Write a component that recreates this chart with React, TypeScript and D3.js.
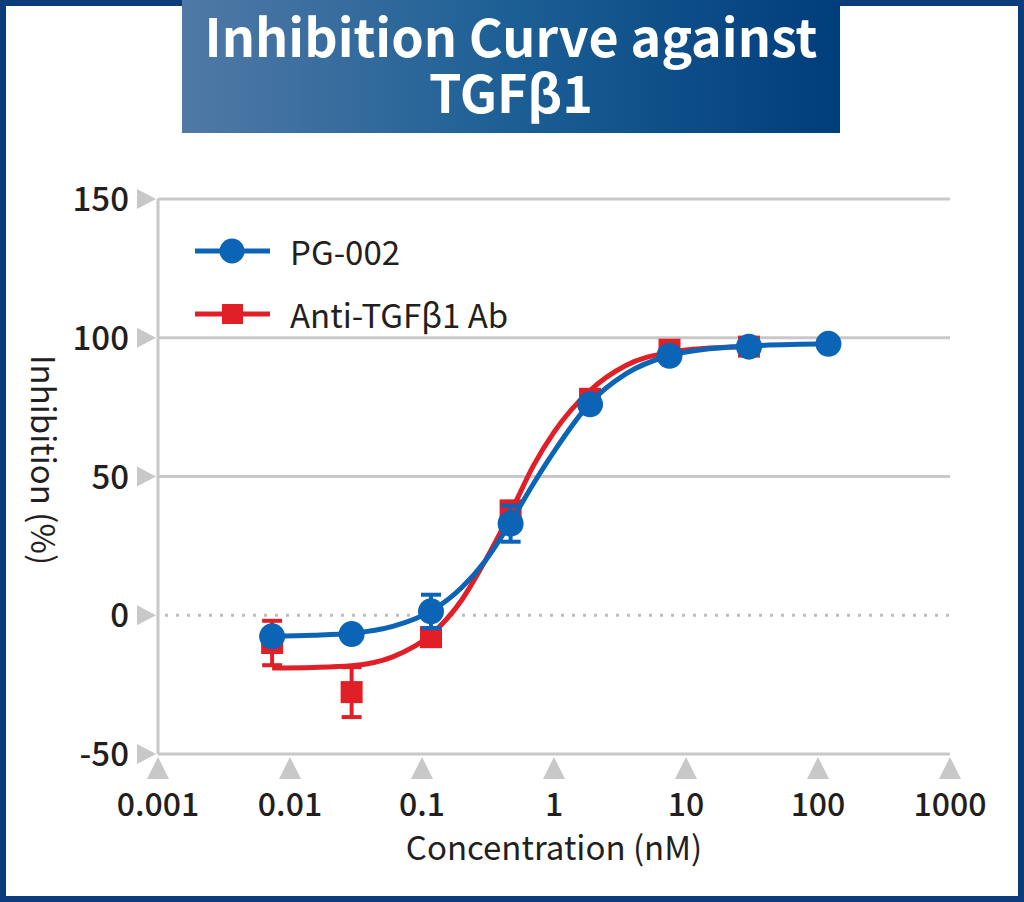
import React from "react";
import * as d3 from "d3";

// ---- data ----
const concentrations = [0.00732, 0.0293, 0.117, 0.469, 1.875, 7.5, 30, 120];
const pg002Mean = [-7.6, -6.8, 1.4, 33, 76, 93.5, 96.8, 97.8];
const pg002Err = [2, 1, 6, 6.5, 2, 1, 1, 1];
const antibodyConc = [0.00732, 0.0293, 0.117, 0.469, 1.875, 7.5, 30];
const antibodyMean = [-10, -27.7, -7.9, 37.8, 78, 95.7, 96.8];
const antibodyErr = [8, 9, 2, 3, 2, 1.5, 1];

// fitted curves
const pg002CurveConc = [0.00732, 0.015, 0.0293, 0.06, 0.117, 0.2, 0.3, 0.469, 0.7, 1, 1.875, 3.5, 7.5, 15, 30, 120];
const pg002CurveVal = [-7.5, -7.2, -6.5, -4, 1.5, 10, 19.5, 33.5, 47.5, 59, 76.5, 87, 93.6, 96, 97, 97.8];
const antibodyCurveConc = [0.00732, 0.015, 0.0293, 0.06, 0.117, 0.2, 0.3, 0.469, 0.7, 1, 1.875, 3.5, 7.5, 15, 30];
const antibodyCurveVal = [-19, -18.8, -18.2, -15, -7, 5.5, 19.5, 37, 54, 66, 81, 90, 94.8, 96.3, 96.8];

const xTicks = [0.001, 0.01, 0.1, 1, 10, 100, 1000];
const xTickLabels = ["0.001", "0.01", "0.1", "1", "10", "100", "1000"];
const yTicks = [-50, 0, 50, 100, 150];

const BLUE = "#0b64b6";
const RED = "#e01f26";
const GRID = "#c8c8c8";
const TEXT = "#231f20";
const FONT = "'Noto Sans CJK JP', 'Noto Sans', sans-serif";

export default function App() {
  const W = 1024, H = 902;
  const x = d3.scaleLog().domain([0.001, 1000]).range([158, 950]);
  const y = d3.scaleLinear().domain([-50, 150]).range([754, 199]);

  const line = d3
    .line<[number, number]>()
    .x((d) => x(d[0]))
    .y((d) => y(d[1]))
    .curve(d3.curveMonotoneX);

  const bluePath = line(pg002CurveConc.map((c, i) => [c, pg002CurveVal[i]]));
  const redPath = line(antibodyCurveConc.map((c, i) => [c, antibodyCurveVal[i]]));

  const errBars = (conc: number[], mean: number[], err: number[], color: string) =>
    conc.map((c, i) => {
      const cx = x(c);
      const y1 = y(mean[i] + err[i]);
      const y2 = y(mean[i] - err[i]);
      return (
        <g key={i} stroke={color} strokeWidth={4}>
          <line x1={cx} x2={cx} y1={y1} y2={y2} />
          <line x1={cx - 10} x2={cx + 10} y1={y1} y2={y1} />
          <line x1={cx - 10} x2={cx + 10} y1={y2} y2={y2} />
        </g>
      );
    });

  return (
    <svg
      width={W}
      height={H}
      style={{ position: "absolute", left: 0, top: 0 }}
      fontFamily={FONT}
    >
      <defs>
        <linearGradient id="titleGrad" x1="0" x2="1" y1="0" y2="0">
          <stop offset="0" stopColor="#5079a6" />
          <stop offset="0.5" stopColor="#1c5f95" />
          <stop offset="1" stopColor="#003d7b" />
        </linearGradient>
      </defs>
      {/* frame */}
      <rect x={0} y={0} width={W} height={H} fill="#fff" />
      <rect x={3} y={3} width={W - 6} height={H - 6} fill="none" stroke="#0c3c7c" strokeWidth={6} />

      {/* title */}
      <rect x={182} y={0} width={658} height={133} fill="url(#titleGrad)" />
      <text x={511} y={57} textAnchor="middle" fill="#fff" fontSize={52} fontWeight="bold">
        Inhibition Curve against
      </text>
      <text x={511} y={113} textAnchor="middle" fill="#fff" fontSize={52} fontWeight="bold">
        TGFβ1
      </text>

      {/* grid */}
      {yTicks.filter((t) => t !== 0).map((t) => (
        <line key={t} x1={158} x2={950} y1={y(t)} y2={y(t)} stroke={GRID} strokeWidth={3} />
      ))}
      <line x1={165} x2={950} y1={y(0)} y2={y(0)} stroke="#bdbdbd" strokeWidth={3} strokeDasharray="3 8" />
      <line x1={158} x2={158} y1={y(150)} y2={y(-50)} stroke={GRID} strokeWidth={3} />

      {/* y ticks */}
      {yTicks.map((t) => (
        <g key={t}>
          <path d={`M${137},${y(t) - 10} L${156},${y(t)} L${137},${y(t) + 10} Z`} fill={GRID} />
          <text x={129} y={y(t) + 12} textAnchor="end" fontSize={33} fontWeight={500} fill={TEXT}>
            {t}
          </text>
        </g>
      ))}

      {/* x ticks */}
      {xTicks.map((t, i) => (
        <g key={t}>
          <path d={`M${x(t)},${757} L${x(t) + 11},${779} L${x(t) - 11},${779} Z`} fill={GRID} />
          <text x={x(t)} y={816} textAnchor="middle" fontSize={32} fontWeight={500} fill={TEXT}>
            {xTickLabels[i]}
          </text>
        </g>
      ))}

      {/* axis titles */}
      <text x={554} y={860} textAnchor="middle" fontSize={33} fill={TEXT}>
        Concentration (nM)
      </text>
      <text
        transform={`translate(45,460) rotate(90)`}
        textAnchor="middle"
        dominantBaseline="central"
        fontSize={33}
        fill={TEXT}
      >
        Inhibition (%)
      </text>

      {/* Anti-TGFb1 Ab series */}
      <path d={redPath ?? ""} fill="none" stroke={RED} strokeWidth={5} />
      {errBars(antibodyConc, antibodyMean, antibodyErr, RED)}
      {antibodyConc.map((c, i) => (
        <rect key={i} x={x(c) - 11} y={y(antibodyMean[i]) - 11} width={22} height={22} fill={RED} />
      ))}

      {/* PG-002 series */}
      <path d={bluePath ?? ""} fill="none" stroke={BLUE} strokeWidth={5} />
      {errBars(concentrations, pg002Mean, pg002Err, BLUE)}
      {concentrations.map((c, i) => (
        <circle key={i} cx={x(c)} cy={y(pg002Mean[i])} r={13} fill={BLUE} />
      ))}

      {/* legend */}
      <line x1={195} x2={270} y1={251} y2={251} stroke={BLUE} strokeWidth={5} />
      <circle cx={232} cy={251} r={12.5} fill={BLUE} />
      <text x={290} y={265} fontSize={33} fill={TEXT}>PG-002</text>
      <line x1={195} x2={270} y1={314} y2={314} stroke={RED} strokeWidth={5} />
      <rect x={222} y={304} width={21} height={20} fill={RED} />
      <text x={290} y={328} fontSize={33} fill={TEXT}>Anti-TGFβ1 Ab</text>
    </svg>
  );
}
